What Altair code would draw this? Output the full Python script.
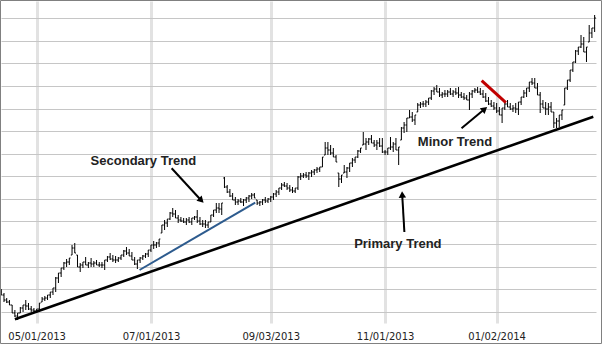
import altair as alt
import pandas as pd

# ---- OHLC data (one bar per trading day, index 0 = 12 Apr 2013) ----
highs = [34, 30, 25, 23, 18, 13, 10, 16, 18, 23, 20, 17, 15, 14, 20, 26, 27, 28, 31, 35,
         46, 50, 55, 61, 64, 65, 78, 80, 68, 60, 61, 66, 61, 65, 62, 63, 61, 61, 63, 67,
         70, 68, 67, 66, 68, 73, 76, 74, 71, 66, 63, 66, 68, 70, 73, 78, 82, 81, 84, 98,
         103, 104, 111, 115, 113, 108, 106, 105, 105, 106, 105, 107, 113, 106, 103, 103, 101, 108, 113, 120,
         120, 120, 146, 138, 134, 130, 126, 124, 125, 124, 126, 128, 130, 130, 123, 122, 124, 126, 125, 127,
         130, 133, 135, 140, 141, 140, 138, 136, 135, 147, 150, 150, 151, 151, 153, 154, 156, 156, 166, 181,
         181, 178, 175, 168, 150, 148, 158, 156, 160, 165, 166, 173, 175, 191, 185, 185, 188, 183, 183, 185,
         185, 173, 175, 186, 181, 185, 176, 196, 201, 205, 213, 211, 208, 220, 221, 222, 223, 225, 233, 236,
         238, 235, 231, 233, 233, 235, 233, 235, 236, 231, 230, 228, 231, 233, 235, 236, 235, 233, 230, 226,
         223, 221, 220, 216, 215, 220, 223, 220, 218, 220, 221, 226, 233, 235, 241, 245, 245, 240, 231, 223,
         221, 220, 221, 211, 205, 208, 213, 235, 243, 253, 261, 273, 276, 288, 286, 276, 298, 295, 308]
lows = [28, 21, 20, 18, 10, 6, 3, 10, 11, 13, 13, 11, 10, 10, 11, 21, 22, 23, 25, 28,
        31, 40, 46, 53, 56, 58, 68, 70, 56, 51, 55, 58, 55, 56, 56, 58, 56, 55, 53, 61,
        63, 61, 60, 61, 63, 66, 68, 67, 63, 58, 54, 60, 63, 65, 66, 71, 74, 75, 76, 90,
        93, 96, 103, 106, 105, 100, 101, 100, 98, 100, 98, 103, 100, 98, 96, 95, 95, 101, 106, 110,
        110, 108, 135, 130, 126, 123, 118, 118, 120, 117, 120, 121, 124, 125, 118, 117, 118, 120, 120, 121,
        123, 126, 128, 133, 136, 133, 131, 130, 130, 133, 143, 145, 145, 143, 146, 148, 150, 151, 156, 168,
        168, 168, 166, 161, 136, 140, 150, 145, 151, 156, 160, 165, 170, 178, 173, 178, 180, 176, 173, 176,
        170, 168, 168, 173, 171, 173, 158, 183, 190, 191, 205, 201, 198, 211, 215, 216, 216, 218, 223, 228,
        231, 226, 225, 226, 226, 228, 226, 228, 225, 225, 223, 223, 213, 225, 230, 230, 228, 225, 221, 218,
        216, 213, 210, 208, 200, 213, 216, 213, 211, 210, 208, 218, 225, 226, 231, 238, 235, 228, 210, 215,
        208, 208, 211, 195, 195, 196, 203, 218, 233, 241, 251, 260, 268, 275, 271, 261, 281, 285, 291]
opens = [31, 28, 23, 21, 18, 10, 7, 10, 15, 18, 17, 14, 13, 12, 14, 21, 24, 25, 28, 31,
         35, 45, 50, 55, 60, 61, 68, 75, 68, 56, 58, 61, 58, 60, 59, 60, 58, 58, 58, 63,
         66, 64, 63, 63, 65, 68, 72, 70, 67, 63, 59, 63, 65, 67, 69, 73, 78, 78, 80, 90,
         98, 100, 104, 110, 109, 105, 103, 102, 101, 103, 101, 105, 106, 102, 99, 99, 98, 101, 108, 113,
         115, 114, 145, 136, 131, 127, 123, 121, 122, 121, 123, 125, 127, 128, 123, 120, 121, 123, 122, 124,
         126, 129, 131, 135, 138, 137, 135, 133, 132, 135, 146, 147, 148, 147, 150, 151, 153, 154, 156, 168,
         175, 173, 170, 166, 150, 144, 150, 151, 155, 160, 163, 166, 172, 178, 179, 181, 184, 180, 178, 180,
         177, 171, 171, 175, 176, 179, 173, 183, 195, 198, 205, 206, 203, 211, 218, 219, 219, 221, 225, 232,
         234, 231, 228, 229, 229, 231, 229, 231, 230, 228, 226, 225, 223, 229, 232, 233, 231, 229, 226, 222,
         219, 217, 215, 212, 208, 215, 219, 216, 214, 215, 214, 221, 226, 230, 235, 241, 240, 235, 228, 219,
         215, 214, 216, 211, 200, 202, 208, 218, 235, 243, 253, 261, 272, 276, 279, 271, 281, 290, 295]
closes = [28, 23, 21, 18, 10, 7, 10, 15, 18, 17, 14, 13, 12, 14, 20, 24, 25, 28, 31, 35,
          45, 50, 55, 60, 61, 65, 75, 70, 56, 58, 61, 58, 60, 59, 60, 58, 58, 58, 63, 66,
          64, 63, 63, 65, 68, 72, 70, 67, 63, 59, 63, 65, 67, 69, 73, 78, 78, 80, 84, 98,
          100, 104, 110, 109, 105, 103, 102, 101, 103, 101, 105, 106, 102, 99, 99, 98, 101, 108, 113, 115,
          114, 120, 136, 131, 127, 123, 121, 122, 121, 123, 125, 127, 128, 125, 120, 121, 123, 122, 124, 126,
          129, 131, 135, 138, 137, 135, 133, 132, 135, 146, 147, 148, 147, 150, 151, 153, 154, 156, 166, 175,
          173, 170, 166, 161, 144, 148, 151, 155, 160, 163, 166, 172, 175, 179, 181, 184, 180, 178, 180, 177,
          171, 171, 175, 176, 179, 173, 176, 195, 198, 205, 206, 203, 208, 218, 219, 219, 221, 225, 232, 234,
          231, 228, 229, 229, 231, 229, 231, 230, 228, 226, 225, 223, 229, 232, 233, 231, 229, 226, 222, 219,
          217, 215, 212, 208, 215, 219, 216, 214, 215, 214, 221, 226, 230, 235, 241, 240, 235, 228, 219, 215,
          214, 216, 211, 200, 202, 208, 213, 235, 243, 253, 261, 272, 276, 279, 271, 276, 290, 295, 305]

# ---- axis ticks ----
tick_idx = [13, 55, 99, 141, 182]
tick_labels = ["05/01/2013", "07/01/2013", "09/03/2013", "11/01/2013", "01/02/2014"]
grid_vals = [11.3, 33.9, 56.4, 79.0, 101.6, 124.2, 146.7, 169.3, 191.9, 214.4, 237.0, 259.6, 282.1, 304.7]

# ---- trend lines (start/end points in index / price units) ----
trend_names = ["Primary", "Primary", "Secondary", "Secondary", "Minor", "Minor"]
trend_i = [5.0, 217.5, 50.8, 93.3, 176.5, 185.4]
trend_v = [3.7, 206.3, 53.0, 120.3, 242.3, 220.3]

# ---- annotations ----
note_text = ["Secondary Trend", "Primary Trend", "Minor Trend"]
note_i = [52.2, 145.7, 166.7]
note_v = [162.0, 79.0, 181.0]
arrow_i1 = [62.6, 148.1, 169.1]
arrow_v1 = [154.7, 91.0, 194.7]
arrow_i2 = [73.5, 147.3, 177.6]
arrow_v2 = [122.5, 128.5, 214.0]
arrow_angle = [135, 357, 50]

n = len(highs)
bars = pd.DataFrame({"i": list(range(n)), "high": highs, "low": lows,
                     "open": opens, "close": closes})
trends = pd.DataFrame({"trend": trend_names, "i": trend_i, "v": trend_v})
notes = pd.DataFrame({"text": note_text, "i": note_i, "v": note_v})
arrows = pd.DataFrame({"i1": arrow_i1, "v1": arrow_v1, "i2": arrow_i2,
                       "v2": arrow_v2, "angle": arrow_angle})

label_expr = ""
for t, l in zip(tick_idx, tick_labels):
    label_expr += f"datum.value == {t} ? '{l}' : "
label_expr += "''"

xscale = alt.Scale(domain=[-0.1, 218.5], nice=False, zero=False)
yscale = alt.Scale(domain=[0, 322], nice=False, zero=False)

x_axis = alt.Axis(values=tick_idx, labelExpr=label_expr, title=None, ticks=False,
                  domain=False, grid=True, gridColor="#e2e2e2", gridWidth=3,
                  labelFont="DejaVu Sans", labelFontSize=10, labelColor="#222222",
                  labelPadding=8, labelFlush=False, labelOverlap=False)
y_axis = alt.Axis(values=grid_vals, labels=False, ticks=False, domain=False, title=None,
                  grid=True, gridColor="#c6c6c6", gridWidth=1)


def X(field):
    return alt.X(field, scale=xscale, axis=x_axis)


def Y(field):
    return alt.Y(field, scale=yscale, axis=y_axis)


base = alt.Chart(bars)

hl = base.mark_rule(color="#000000", strokeWidth=1).encode(
    x=X("i:Q"), y=Y("low:Q"), y2="high:Q")
open_tick = base.transform_calculate(a="datum.i - 0.45").mark_rule(
    color="#000000", strokeWidth=1).encode(
    x=X("a:Q"), x2="i:Q", y=Y("open:Q"))
close_tick = base.transform_calculate(b="datum.i + 0.45").mark_rule(
    color="#000000", strokeWidth=1).encode(
    x=X("i:Q"), x2="b:Q", y=Y("close:Q"))


def trend_line(name, color, width):
    return alt.Chart(trends).transform_filter(f"datum.trend == '{name}'").mark_line(
        color=color, strokeWidth=width, strokeCap="butt").encode(
        x=X("i:Q"), y=Y("v:Q"))


primary = trend_line("Primary", "#000000", 2.6)
secondary = trend_line("Secondary", "#2d5b8e", 2)
minor = trend_line("Minor", "#c00000", 3)

arrow_lines = alt.Chart(arrows).mark_rule(color="#000000", strokeWidth=2).encode(
    x=X("i1:Q"), y=Y("v1:Q"), x2="i2:Q", y2="v2:Q")
arrow_heads = alt.Chart(arrows).mark_point(
    shape="triangle-up", filled=True, color="#000000", size=55, opacity=1).encode(
    x=X("i2:Q"), y=Y("v2:Q"), angle=alt.Angle("angle:Q", scale=None))

labels = alt.Chart(notes).mark_text(
    font="Liberation Sans", fontSize=13, fontWeight="bold", color="#222222",
    align="center", baseline="middle").encode(
    x=X("i:Q"), y=Y("v:Q"), text="text:N")

frame = alt.Chart(pd.DataFrame({"k": [0]})).mark_rect(
    fill=None, stroke="#808080", strokeWidth=1, clip=False).encode(
    x=alt.value(-0.5), x2=alt.value(600.5), y=alt.value(-0.5), y2=alt.value(342.5))

chart = alt.layer(hl, open_tick, close_tick, primary, secondary, minor,
                  arrow_lines, arrow_heads, labels, frame).properties(
    width=595, height=322,
    autosize=alt.AutoSizeParams(type="none"),
    padding={"left": 1, "top": 1, "right": 7, "bottom": 22},
    background="#ffffff",
).configure_view(stroke=None)

chart.save("out.html", embed_options={"renderer": "svg", "actions": False})
